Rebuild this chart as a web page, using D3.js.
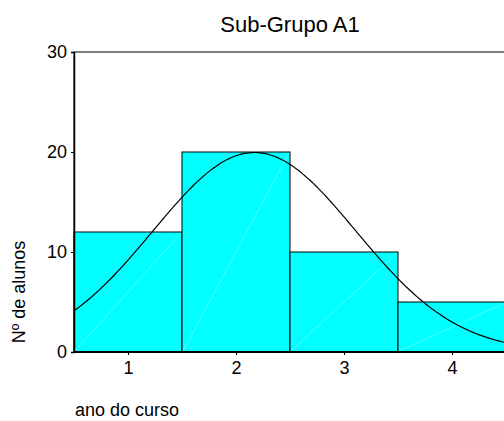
<!DOCTYPE html>
<html>
<head>
<meta charset="utf-8">
<script src="https://cdn.jsdelivr.net/npm/d3@7"></script>
<style>
  html, body { margin: 0; padding: 0; background: #fff; }
  svg { display: block; font-family: "Liberation Sans", Arial, sans-serif; }
</style>
</head>
<body>
<svg id="chart" width="504" height="421"></svg>
<script>
const title = "Sub-Grupo A1";
const xTitle = "ano do curso";
const yTitle = "Nº de alunos";
const categories = [1, 2, 3, 4];
const counts = [12, 20, 10, 5];
const yTicks = [0, 10, 20, 30];

(function () {
const svg = d3.select("#chart");
const pLeft = 74, pRight = 506, pTop = 52, pBottom = 352;

const x = d3.scaleLinear().domain([0.5, 4.5]).range([pLeft, pRight]);
const y = d3.scaleLinear().domain([0, 30]).range([pBottom, pTop]);

// plot frame
svg.append("rect")
  .attr("x", pLeft).attr("y", pTop)
  .attr("width", pRight - pLeft).attr("height", pBottom - pTop)
  .attr("fill", "none").attr("stroke", "#000").attr("stroke-width", 1);

// bars
const bars = svg.append("g");
categories.forEach((c, i) => {
  const x0 = x(c - 0.5), x1 = x(c + 0.5), y0 = y(0), y1 = y(counts[i]);
  bars.append("rect")
    .attr("x", x0).attr("y", y1)
    .attr("width", x1 - x0).attr("height", y0 - y1)
    .attr("fill", "#00ffff").attr("stroke", "#000").attr("stroke-width", 1);
  bars.append("line")
    .attr("x1", x0 + 1).attr("y1", y0 - 1)
    .attr("x2", x1 - 1).attr("y2", y1 + 1)
    .attr("stroke", "#9affff").attr("stroke-width", 0.5);
});

// normal curve from data
const N = d3.sum(counts);
const mean = d3.sum(categories.map((c, i) => c * counts[i])) / N;
const variance = d3.sum(categories.map((c, i) => counts[i] * (c - mean) ** 2)) / (N - 1);
const sd = Math.sqrt(variance);
const pts = d3.range(0.5, 4.5001, 0.02).map(v => [v,
  N / (sd * Math.sqrt(2 * Math.PI)) * Math.exp(-0.5 * ((v - mean) / sd) ** 2)]);
svg.append("path")
  .datum(pts)
  .attr("d", d3.line().x(d => x(d[0])).y(d => y(d[1])))
  .attr("fill", "none").attr("stroke", "#000").attr("stroke-width", 1.2);

// y axis
const yAxis = svg.append("g").attr("transform", `translate(${pLeft},0)`)
  .call(d3.axisLeft(y).tickValues(yTicks).tickSize(3).tickPadding(4));
yAxis.select(".domain").attr("stroke-width", 1.5);
yAxis.selectAll("text").attr("font-size", 18).attr("fill", "#000")
  .attr("font-family", "Liberation Sans, Arial, sans-serif");

// x axis
const xAxis = svg.append("g").attr("transform", `translate(0,${pBottom})`)
  .call(d3.axisBottom(x).tickValues(categories).tickSize(3).tickPadding(6).tickFormat(d3.format("d")));
xAxis.select(".domain").remove();
xAxis.selectAll("text").attr("font-size", 18).attr("fill", "#000")
  .attr("font-family", "Liberation Sans, Arial, sans-serif");
svg.append("line")
  .attr("x1", pLeft).attr("x2", pRight).attr("y1", pBottom).attr("y2", pBottom)
  .attr("stroke", "#000").attr("stroke-width", 2);

// titles
svg.append("text").attr("x", (pLeft + pRight) / 2).attr("y", 32)
  .attr("text-anchor", "middle").attr("font-size", 22).text(title);
svg.append("text").attr("x", 75).attr("y", 416)
  .attr("font-size", 18).text(xTitle);
svg.append("text").attr("transform", "translate(25,292) rotate(-90)")
  .attr("text-anchor", "middle").attr("font-size", 18).text(yTitle);
})();
</script>
</body>
</html>
